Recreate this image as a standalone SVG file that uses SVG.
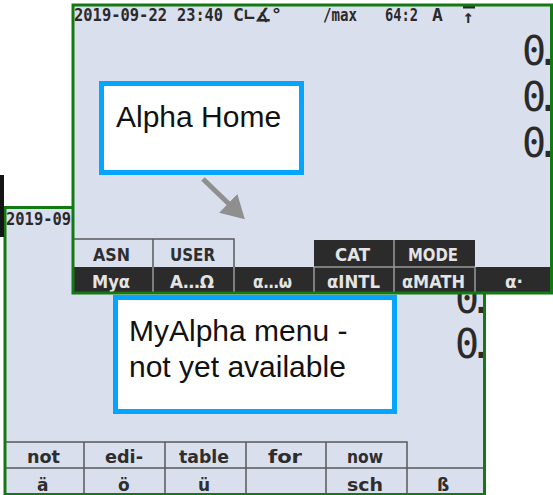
<svg xmlns="http://www.w3.org/2000/svg" xmlns:xlink="http://www.w3.org/1999/xlink" width="553" height="495" viewBox="0 0 553 495">
<style>
.scr{fill:#DADFEE}
.frame{fill:none;stroke:#137a13;stroke-width:3}
.st{font-family:"DejaVu Sans Mono",monospace;font-weight:bold;font-size:18px;fill:#2a2a2a}
.num{font-family:"DejaVu Sans Mono",monospace;font-size:40px;letter-spacing:-10px;fill:#2a2a2a}
.lbl{font-family:"DejaVu Sans",sans-serif;font-weight:bold;font-size:17px}
.lt{fill:#2e2e2e}
.dt{fill:#e4e4e4}
.dk{fill:#2b2b2b}
.grid{fill:none;stroke:#5a5a5a;stroke-width:1.5}
.sep{fill:none;stroke:#9a9a9a;stroke-width:1.5}
.call{fill:#fff;stroke:#05A5FF;stroke-width:5}
.ctxt{font-family:"Liberation Sans",Arial,sans-serif;font-size:30px;fill:#111}
</style>
<defs>
<g id="status">
<text class="st" x="74" y="21" textLength="93" lengthAdjust="spacingAndGlyphs">2019-09-22</text>
<text class="st" x="177" y="21" textLength="46" lengthAdjust="spacingAndGlyphs">23:40</text>
<text class="st" x="233" y="21" textLength="49" lengthAdjust="spacingAndGlyphs">C∟∡°</text>
<text class="st" x="323" y="21" textLength="34" lengthAdjust="spacingAndGlyphs">/max</text>
<text class="st" x="385" y="21" textLength="33" lengthAdjust="spacingAndGlyphs">64:2</text>
<text class="st" x="432" y="21">A</text>
<rect x="463" y="6" width="12" height="2.5" fill="#2a2a2a"/>
<text class="st" x="463" y="23">↑</text>
</g>
<marker id="ah" markerUnits="userSpaceOnUse" viewBox="0 0 23 26" markerWidth="23" markerHeight="26" refX="1" refY="13" orient="auto">
<path d="M0,0 L23,13 L0,26 z" fill="#8f8f8f"/>
</marker>
</defs>

<rect x="0" y="0" width="553" height="495" fill="#fff"/>

<g id="screen-myalpha">
<rect class="scr" x="5" y="207.5" width="479.5" height="287"/>
<use xlink:href="#status" transform="translate(-68,204)"/>
<text class="num" x="455" y="313">0.</text>
<text class="num" x="455" y="358">0.</text>
<path class="grid" d="M5,442 H407 V468 M84,442 V495 M165,442 V495 M246,442 V495 M326,442 V495 M5,468 H484 M407,468 V495"/>
<text class="lbl lt" x="27" y="463" textLength="33" lengthAdjust="spacingAndGlyphs">not</text>
<text class="lbl lt" x="105" y="463" textLength="38" lengthAdjust="spacingAndGlyphs">edi-</text>
<text class="lbl lt" x="179" y="463" textLength="50" lengthAdjust="spacingAndGlyphs">table</text>
<text class="lbl lt" x="268" y="463" textLength="34" lengthAdjust="spacingAndGlyphs">for</text>
<text class="lbl lt" x="347" y="463" textLength="36" lengthAdjust="spacingAndGlyphs">now</text>
<text class="lbl lt" x="37" y="491">ä</text>
<text class="lbl lt" x="118" y="491">ö</text>
<text class="lbl lt" x="198" y="491">ü</text>
<text class="lbl lt" x="347" y="491" textLength="36" lengthAdjust="spacingAndGlyphs">sch</text>
<text class="lbl lt" x="437" y="491">ß</text>
<rect class="frame" x="5" y="207.5" width="479.5" height="287"/>
</g>

<rect x="0" y="175" width="4" height="62" fill="#151515"/>

<g id="screen-home">
<rect class="scr" x="73" y="5" width="478.5" height="288"/>
<use xlink:href="#status"/>
<text class="num" x="522" y="65">0.</text>
<text class="num" x="522" y="111">0.</text>
<text class="num" x="522" y="157">0.</text>
<path class="grid" d="M73,239 H234 V267 M153,239 V267"/>
<rect class="dk" x="314" y="240" width="161" height="27"/>
<rect class="dk" x="73" y="267" width="479" height="26"/>
<path class="sep" d="M394,240 V267 M314,267 H475 M153,267 V293 M234,267 V293 M314,267 V293 M394,267 V293 M475,267 V293"/>
<text class="lbl lt" x="93" y="261" textLength="37" lengthAdjust="spacingAndGlyphs">ASN</text>
<text class="lbl lt" x="170" y="261" textLength="45" lengthAdjust="spacingAndGlyphs">USER</text>
<text class="lbl dt" x="335" y="261" textLength="35" lengthAdjust="spacingAndGlyphs">CAT</text>
<text class="lbl dt" x="408" y="261" textLength="50" lengthAdjust="spacingAndGlyphs">MODE</text>
<text class="lbl dt" x="92" y="288" textLength="38" lengthAdjust="spacingAndGlyphs">Myα</text>
<text class="lbl dt" x="170" y="288" textLength="44" lengthAdjust="spacingAndGlyphs">A…Ω</text>
<text class="lbl dt" x="253" y="288" textLength="39" lengthAdjust="spacingAndGlyphs">α…ω</text>
<text class="lbl dt" x="327" y="288" textLength="53" lengthAdjust="spacingAndGlyphs">αINTL</text>
<text class="lbl dt" x="402" y="288" textLength="63" lengthAdjust="spacingAndGlyphs">αMATH</text>
<text class="lbl dt" x="505" y="288" textLength="18" lengthAdjust="spacingAndGlyphs">α·</text>
<rect class="frame" x="73" y="5" width="478.5" height="288"/>
</g>

<g id="callout-alpha-home">
<rect class="call" x="101.5" y="83.5" width="200" height="89"/>
<text class="ctxt" x="116" y="127">Alpha Home</text>
</g>

<g id="callout-myalpha">
<rect class="call" x="115.5" y="297.5" width="279" height="114"/>
<text class="ctxt" x="129" y="341">MyAlpha menu -</text>
<text class="ctxt" x="129" y="377">not yet available</text>
</g>

<g id="connectors">
<line x1="203" y1="179" x2="229" y2="204" stroke="#8f8f8f" stroke-width="5" marker-end="url(#ah)"/>
</g>
</svg>
